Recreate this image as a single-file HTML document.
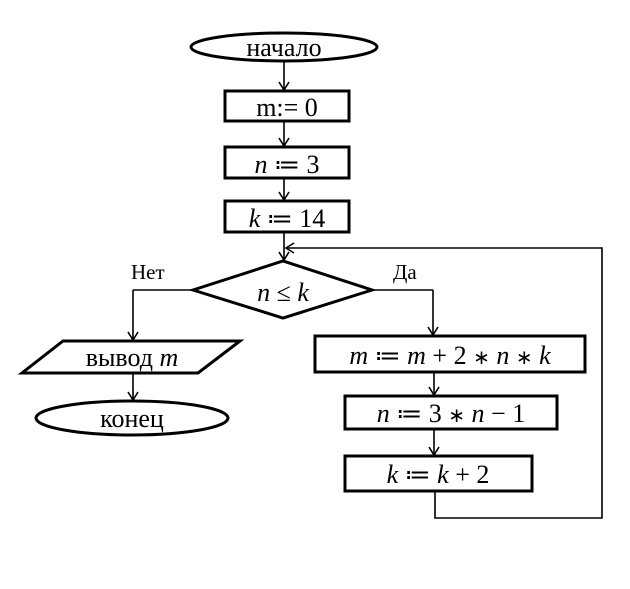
<!DOCTYPE html>
<html><head><meta charset="utf-8"><style>
html,body{margin:0;padding:0;background:#fff;}
text{font-family:"Liberation Serif",serif;font-size:26px;fill:#000;}
.i{font-style:italic;}
.s{font-size:20px;}
</style></head><body>
<svg width="630" height="584" viewBox="0 0 630 584" xmlns="http://www.w3.org/2000/svg">
<defs><marker id="a" markerWidth="12" markerHeight="12" refX="10" refY="6" orient="auto" markerUnits="userSpaceOnUse"><path d="M2,1 L10,6 L2,11" fill="none" stroke="#000" stroke-width="1.6"/></marker></defs>
<g fill="none" stroke="#000" stroke-width="3">
<ellipse cx="284" cy="47" rx="93" ry="14"/>
<rect x="225" y="91" width="124" height="30"/>
<rect x="225" y="147" width="124" height="31"/>
<rect x="225" y="201" width="124" height="31"/>
<polygon points="193,290 283,261 372,290 283,318"/>
<polygon points="63,341 240,341 198,373 22,373"/>
<ellipse cx="132" cy="418" rx="96" ry="17"/>
<rect x="315" y="336" width="270" height="36"/>
<rect x="345" y="396" width="212" height="33"/>
<rect x="345" y="456" width="187" height="35"/>
</g>
<g fill="none" stroke="#000" stroke-width="1.6">
<line x1="284" y1="61" x2="284" y2="90" marker-end="url(#a)"/>
<line x1="284" y1="122" x2="284" y2="146" marker-end="url(#a)"/>
<line x1="284" y1="178" x2="284" y2="200" marker-end="url(#a)"/>
<line x1="284" y1="232" x2="284" y2="260" marker-end="url(#a)"/>
<line x1="193" y1="290" x2="133" y2="290"/>
<line x1="133" y1="290" x2="133" y2="340" marker-end="url(#a)"/>
<line x1="133" y1="374" x2="133" y2="400" marker-end="url(#a)"/>
<line x1="372" y1="290" x2="433" y2="290"/>
<line x1="433" y1="290" x2="433" y2="335" marker-end="url(#a)"/>
<line x1="434" y1="372" x2="434" y2="395" marker-end="url(#a)"/>
<line x1="434" y1="429" x2="434" y2="455" marker-end="url(#a)"/>
<polyline points="435,491 435,518 602,518 602,248 286,248" marker-end="url(#a)"/>
</g>
<text x="284" y="56" text-anchor="middle">начало</text>
<text x="287" y="116" text-anchor="middle">m:= 0</text>
<text x="287" y="173" text-anchor="middle"><tspan class="i">n</tspan> ≔ 3</text>
<text x="287" y="227" text-anchor="middle"><tspan class="i">k</tspan> ≔ 14</text>
<text x="283" y="301" text-anchor="middle"><tspan class="i">n</tspan> ≤ <tspan class="i">k</tspan></text>
<text x="131" y="279" style="font-size:21px">Нет</text>
<text x="393" y="279" style="font-size:21px">Да</text>
<text x="132" y="366" text-anchor="middle">вывод <tspan class="i">m</tspan></text>
<text x="132" y="427" text-anchor="middle">конец</text>
<text x="450" y="364" text-anchor="middle"><tspan class="i">m</tspan> ≔ <tspan class="i">m</tspan> + 2 <tspan class="s">∗</tspan> <tspan class="i">n</tspan> <tspan class="s">∗</tspan> <tspan class="i">k</tspan></text>
<text x="451" y="422" text-anchor="middle"><tspan class="i">n</tspan> ≔ 3 <tspan class="s">∗</tspan> <tspan class="i">n</tspan> − 1</text>
<text x="438" y="483" text-anchor="middle"><tspan class="i">k</tspan> ≔ <tspan class="i">k</tspan> + 2</text>
</svg>
</body></html>
